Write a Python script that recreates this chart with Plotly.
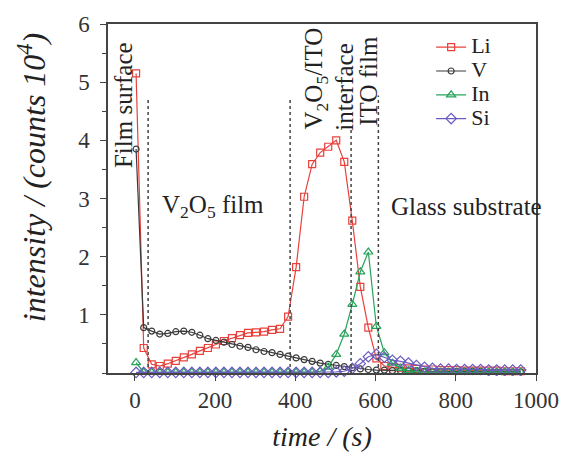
import plotly.graph_objects as go

# time axis (s)
time_s = [3, 22, 42, 62, 82, 102, 122, 142, 162, 182, 202, 222, 242, 262, 282, 302,
          322, 342, 362, 382, 402, 422, 442, 462, 482, 502, 522, 542, 562, 582, 602,
          622, 642, 662, 682, 702, 722, 742, 762, 782, 802, 822, 842, 862, 882, 902,
          922, 942, 962]

li = [5.15, 0.43, 0.15, 0.12, 0.16, 0.21, 0.27, 0.32, 0.38, 0.43, 0.49, 0.55, 0.60, 0.65,
      0.69, 0.70, 0.71, 0.74, 0.76, 0.97, 1.82, 3.03, 3.59, 3.79, 3.89, 4.00, 3.63, 2.62,
      1.48, 0.78, 0.25, 0.12, 0.10, 0.09, 0.08, 0.07, 0.06, 0.06, 0.05, 0.05, 0.05, 0.04,
      0.04, 0.04, 0.04, 0.04, 0.03, 0.03, 0.03]

v = [3.85, 0.78, 0.72, 0.67, 0.68, 0.71, 0.72, 0.70, 0.65, 0.59, 0.56, 0.53, 0.49, 0.46,
     0.44, 0.40, 0.37, 0.35, 0.32, 0.29, 0.26, 0.23, 0.20, 0.17, 0.15, 0.13, 0.11, 0.09,
     0.07, 0.06, 0.05, 0.05, 0.04, 0.04, 0.04, 0.04, 0.03, 0.03, 0.03, 0.03, 0.03, 0.03,
     0.03, 0.03, 0.02, 0.02, 0.02, 0.02, 0.02]

in_ = [0.18, 0.01, 0.01, 0.01, 0.01, 0.01, 0.01, 0.01, 0.01, 0.01, 0.01, 0.01, 0.01, 0.01,
       0.01, 0.01, 0.01, 0.01, 0.01, 0.01, 0.01, 0.01, 0.01, 0.03, 0.10, 0.32, 0.67, 1.18,
       1.74, 2.08, 0.80, 0.35, 0.17, 0.08, 0.04, 0.02, 0.01, 0.01, 0.01, 0.01, 0.01, 0.01,
       0.01, 0.01, 0.01, 0.01, 0.01, 0.01, 0.01]

si = [0.01, 0.01, 0.01, 0.01, 0.01, 0.01, 0.01, 0.01, 0.01, 0.01, 0.01, 0.01, 0.01, 0.01,
      0.01, 0.01, 0.01, 0.01, 0.01, 0.01, 0.01, 0.01, 0.01, 0.01, 0.01, 0.02, 0.03, 0.08,
      0.16, 0.28, 0.32, 0.27, 0.22, 0.20, 0.17, 0.13, 0.10, 0.08, 0.07, 0.07, 0.06, 0.06,
      0.06, 0.06, 0.05, 0.05, 0.05, 0.05, 0.05]

series_names = ["Li", "V", "In", "Si"]
y_ticks = [1, 2, 3, 4, 5, 6]
x_ticks = [0, 200, 400, 600, 800, 1000]

SERIF = "Liberation Serif, Times New Roman, serif"

styles = {
    "Li": dict(color="#e8413c", symbol="square-open", size=7),
    "V": dict(color="#3a3a3a", symbol="circle-open", size=6),
    "In": dict(color="#27a35a", symbol="triangle-up-open", size=8),
    "Si": dict(color="#6a5cc0", symbol="diamond-open", size=8),
}

fig = go.Figure()
for name, ys in zip(series_names, [li, v, in_, si]):
    st = styles[name]
    fig.add_trace(go.Scatter(
        x=time_s, y=ys, name='<span style="font-size:22px">%s</span>' % name,
        mode="lines+markers",
        line=dict(color=st["color"], width=1.2),
        marker=dict(symbol=st["symbol"], size=st["size"], color=st["color"],
                    line=dict(width=1.2, color=st["color"])),
        cliponaxis=False,
    ))

# dotted region separators
for xv, ytop in [(33, 4.72), (387, 4.72), (539, 4.2), (607, 4.77)]:
    fig.add_shape(type="line", xref="x", yref="y", x0=xv, x1=xv, y0=0, y1=ytop,
                  line=dict(color="#444", width=1.5, dash="dot"))

ann_font = dict(family=SERIF, size=25, color="#222")
anns = [
    dict(text="Film surface", x=-28, y=4.6, textangle=-90),
    dict(text="V<sub>2</sub>O<sub>5</sub> film", x=194, y=2.86, textangle=0),
    dict(text="V<sub>2</sub>O<sub>5</sub>/ITO", x=450, y=5.07, textangle=-90),
    dict(text="interface", x=522, y=4.91, textangle=-90),
    dict(text="ITO film", x=582, y=5.03, textangle=-90),
    dict(text="Glass substrate", x=826, y=2.86, textangle=0),
]
for a in anns:
    fig.add_annotation(x=a["x"], y=a["y"], xref="x", yref="y", text=a["text"],
                       textangle=a["textangle"], showarrow=False, font=ann_font)

# y-axis title
fig.add_annotation(x=-0.1785, y=0.56, xref="paper", yref="paper",
                   xanchor="center", yanchor="middle",
                   text="<i>intensity / (counts 10<sup>4</sup>)</i>", textangle=-90,
                   showarrow=False, font=dict(family=SERIF, size=32, color="#222"))

axis_common = dict(showline=True, linecolor="#444", linewidth=1.5, mirror=True,
                   showgrid=False, zeroline=False, ticks="outside", ticklen=6,
                   tickcolor="#444", tickfont=dict(family=SERIF, size=23, color="#333"))

fig.update_layout(
    width=571, height=461,
    margin=dict(l=108, r=26, t=20, b=88),
    paper_bgcolor="white", plot_bgcolor="white",
    xaxis=dict(range=[-67, 1000], tickvals=x_ticks,
               title=dict(text="<i>time / (s)</i>", font=dict(family=SERIF, size=28, color="#222"),
                          standoff=14),
               **axis_common),
    yaxis=dict(range=[0, 6], tickvals=y_ticks, ticklabelstandoff=6,
               minor=dict(dtick=0.5, ticks="outside", ticklen=4, tickcolor="#444"),
               **axis_common),
    legend=dict(x=0.755, y=0.982, xanchor="left", yanchor="top",
                font=dict(family=SERIF, size=16, color="#222"),
                bgcolor="rgba(0,0,0,0)", tracegroupgap=0),
    showlegend=True,
)

fig.write_html("out.html")
